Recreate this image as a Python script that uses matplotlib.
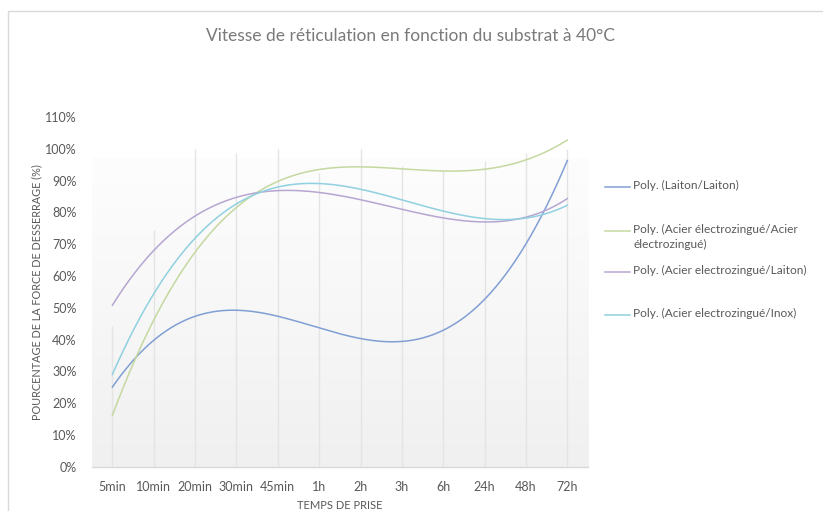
import numpy as np
import matplotlib
matplotlib.use("Agg")
import matplotlib.pyplot as plt
from matplotlib.lines import Line2D
from matplotlib.patches import Rectangle

plt.rcParams['font.family'] = ['Lato', 'DejaVu Sans']

# categories (temps de prise)
categories = ["5min", "10min", "20min", "30min", "45min", "1h",
              "2h", "3h", "6h", "24h", "48h", "72h"]

# values read along each trendline at every category (%)
laiton_laiton = [25.0, 39.9, 47.3, 49.1, 47.3, 43.6, 40.5, 39.6, 42.6, 52.5, 70.4, 96.2]
acier_acier = [16.3, 45.5, 68.5, 80.9, 89.9, 93.3, 94.4, 93.9, 93.0, 93.3, 96.7, 102.7]
acier_laiton = [50.7, 68.3, 78.6, 84.6, 87.0, 86.4, 83.9, 80.9, 78.3, 76.9, 78.6, 84.3]
acier_inox = [28.9, 54.8, 71.5, 82.5, 88.3, 89.1, 87.2, 83.9, 80.4, 78.0, 78.3, 82.2]

# height of the vertical drop lines at each category (%)
drop_tops = [44.4, 74.6, 100.0, 98.8, 100.0, 92.5, 100.0, 94.6, 93.0, 96.2, 98.8, 100.0]

labels = ["Poly. (Laiton/Laiton)",
          "Poly. (Acier électrozingué/Acier\nélectrozingué)",
          "Poly. (Acier electrozingué/Laiton)",
          "Poly. (Acier electrozingué/Inox)"]
series = [laiton_laiton, acier_acier, acier_laiton, acier_inox]
colors = ["#819fd4", "#c5d8a0", "#b6a6d1", "#90d0e0"]

W, H = 823, 511
fig = plt.figure(figsize=(W / 100, H / 100), dpi=100)

# chart border
fig.add_artist(Rectangle((8 / W, -0.1), 1.2, 1.1 - 11 / H,
                         transform=fig.transFigure, fill=False,
                         edgecolor="#d9d9d9", linewidth=1.0))

ax = fig.add_axes([91.7 / W, 1 - 466.7 / H, (588 - 91.7) / W, (466.7 - 117) / H])

x = np.arange(len(categories))

# gradient background of the plot area (white at the top)
grad = np.linspace(0, 1, 256).reshape(-1, 1)
ax.imshow(grad, extent=[-0.5, 11.5, 0, 97], origin="lower", aspect="auto",
          cmap=matplotlib.colors.LinearSegmentedColormap.from_list(
              "bg", ["#f0f0f0", "#f7f7f7", "#fdfdfd"]), zorder=0)

ax.vlines(x, 0, drop_tops, colors="#e4e4e4", linewidth=1.0, zorder=1)

xs = np.linspace(0, len(categories) - 1, 400)
for vals, col in zip(series, colors):
    coef = np.polyfit(x, vals, 5)
    ax.plot(xs, np.polyval(coef, xs), color=col, linewidth=1.1, zorder=3)

ax.set_xlim(-0.5, 11.5)
ax.set_ylim(0, 110)
ax.set_yticks(np.arange(0, 111, 10))
ax.set_yticklabels([f"{v}%" for v in range(0, 111, 10)])
ax.set_xticks(x)
ax.set_xticklabels(categories)
ax.tick_params(axis="both", length=0, labelsize=9, colors="#595959")
ax.tick_params(axis="y", pad=11)
ax.tick_params(axis="x", pad=10)

for side in ["top", "right", "left"]:
    ax.spines[side].set_visible(False)
ax.spines["bottom"].set_color("#d9d9d9")
ax.spines["bottom"].set_linewidth(1.0)

ax.set_xlabel("TEMPS DE PRISE", fontsize=8, color="#595959", labelpad=5)
ax.set_ylabel("POURCENTAGE DE LA FORCE DE DESSERRAGE (%)", fontsize=7.8,
              color="#595959", labelpad=2)

fig.text(410 / W, 1 - 36 / H, "Vitesse de réticulation en fonction du substrat à 40°C",
         ha="center", va="center", fontsize=12.5, color="#7a7a7a")

# legend, drawn at the Excel-like positions
legend_y = [186.5, 231, 271.5, 315]
for lab, col, ly in zip(labels, colors, legend_y):
    fig.add_artist(Line2D([605 / W, 630 / W], [1 - ly / H, 1 - ly / H],
                          transform=fig.transFigure, color=col, linewidth=1.1))
    fig.text(633 / W, 1 - (ly - 7) / H, lab, ha="left", va="top",
             fontsize=8.6, color="#595959", linespacing=1.45)

fig.savefig("out.png", dpi=100)
